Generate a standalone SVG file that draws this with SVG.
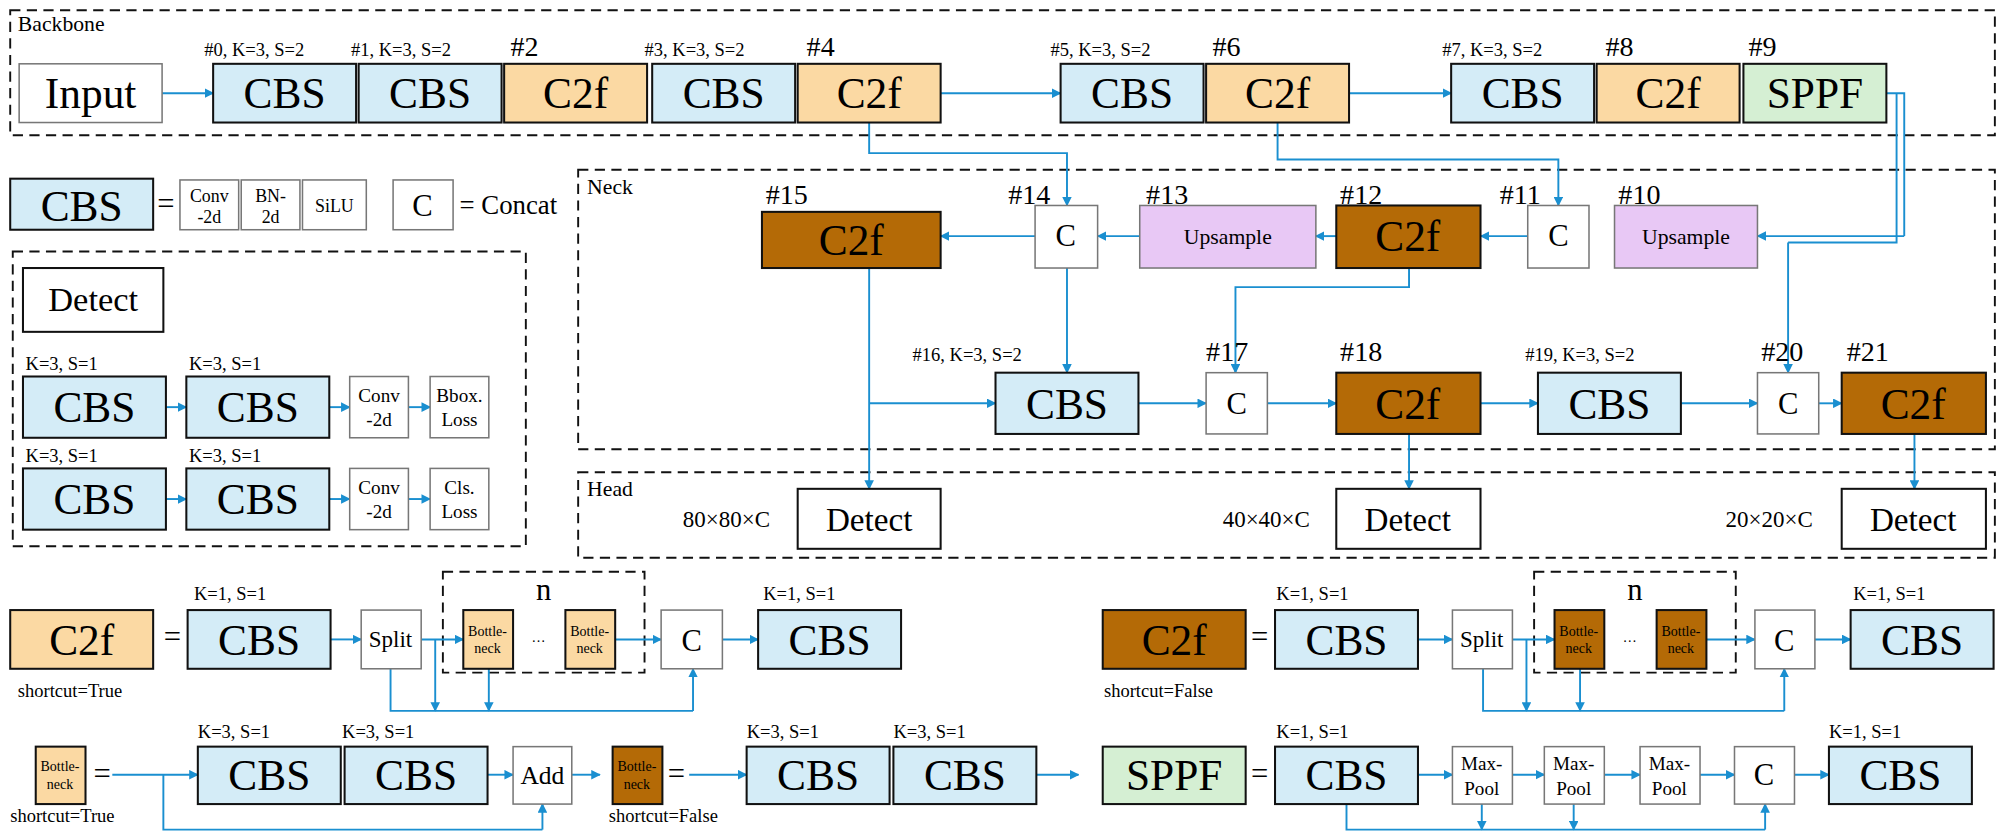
<svg xmlns="http://www.w3.org/2000/svg" width="2000" height="840" viewBox="0 0 2000 840">
<defs>
<marker id="ar" viewBox="0 0 10 10" refX="9" refY="5" markerWidth="5" markerHeight="5" orient="auto"><path d="M0,0L10,5L0,10z" fill="#1a8fd0"/></marker>
<style>
text{font-family:"Liberation Serif","Times New Roman",serif;fill:#000}
.b{stroke:#111;stroke-width:1.6}
.g{stroke:#777;stroke-width:1.2;fill:#fff}
.cbs{fill:#d4ecf7}.lo{fill:#fbd9a3}.br{fill:#b46a06}.gr{fill:#d5efd3}.pu{fill:#e8c8f5}.w{fill:#fff}
.big{font-size:34px;text-anchor:middle}
.mid{font-size:24px;text-anchor:middle}
.sm{font-size:14.5px}
.hd{font-size:22px}
.s{font-size:11px;text-anchor:middle}
.dash{fill:none;stroke:#111;stroke-width:1.5;stroke-dasharray:8 5}
.c{fill:none;stroke:#1a8fd0;stroke-width:1.5}
.a{fill:none;stroke:#1a8fd0;stroke-width:1.5;marker-end:url(#ar)}
</style>
</defs>
<g transform="scale(1.2763)">
<g id="frames">
<rect class="dash" x="8" y="8" width="1555" height="98"/><text x="14" y="24" style="font-size:17px">Backbone</text>
<rect class="dash" x="453" y="133" width="1110" height="219"/><text x="460" y="152" style="font-size:17px">Neck</text>
<rect class="dash" x="453" y="370" width="1110" height="67"/><text x="460" y="389" style="font-size:17px">Head</text>
<rect class="dash" x="10" y="197" width="402" height="231"/>
<rect class="dash" x="347" y="448" width="158" height="79"/><text x="426" y="470" class="mid">n</text>
<rect class="dash" x="1202" y="448" width="158" height="79"/><text x="1281" y="470" class="mid">n</text>
</g>
<g id="connectors">
<path class="a" d="M127,73H167"/><path class="a" d="M737,73H831"/><path class="a" d="M1057,73H1137"/>
<path class="c" d="M1478,73H1492V185"/><path class="a" d="M1492,185H1377"/><path class="c" d="M1486,73V190H1401"/><path class="a" d="M1401,190V292"/>
<path class="a" d="M681,96V120H836V161"/><path class="a" d="M1001,96V125H1221V161"/>
<path class="a" d="M1197,185H1160"/><path class="a" d="M1047,185H1031"/><path class="a" d="M893,185H860"/><path class="a" d="M811,185H737"/>
<path class="a" d="M1104,210V225H968V292"/><path class="a" d="M836,210V292"/>
<path class="a" d="M681,210V383"/><path class="a" d="M681,316H780"/>
<path class="a" d="M892,316H945"/><path class="a" d="M993,316H1047"/><path class="a" d="M1160,316H1205"/><path class="a" d="M1317,316H1377"/><path class="a" d="M1425,316H1443"/>
<path class="a" d="M1104,340V383"/><path class="a" d="M1500,340V383"/>
<path class="a" d="M130,319H146"/><path class="a" d="M258,319H274"/><path class="a" d="M320,319H337"/>
<path class="a" d="M130,391H146"/><path class="a" d="M258,391H274"/><path class="a" d="M320,391H337"/>
<path class="a" d="M259,501H283"/><path class="a" d="M330,501H363"/><path class="a" d="M482,501H518"/><path class="a" d="M566,501H594"/>
<path class="c" d="M306,524V557H543"/><path class="a" d="M543,557V524"/><path class="a" d="M341,501V557"/><path class="a" d="M383,524V557"/>
<path class="a" d="M1111,501H1138"/><path class="a" d="M1185,501H1218"/><path class="a" d="M1337,501H1375"/><path class="a" d="M1422,501H1450"/>
<path class="c" d="M1162,524V557H1398"/><path class="a" d="M1398,557V524"/><path class="a" d="M1196,501V557"/><path class="a" d="M1238,524V557"/>
<path class="a" d="M88,607H155"/><path class="a" d="M382,607H402"/><path class="a" d="M448,607H470"/>
<path class="c" d="M128,607V650H425"/><path class="a" d="M425,650V630"/>
<path class="a" d="M540,607H585"/><path class="a" d="M812,607H845"/>
<path class="a" d="M1111,607H1138"/><path class="a" d="M1185,607H1210"/><path class="a" d="M1257,607H1285"/><path class="a" d="M1332,607H1359"/><path class="a" d="M1406,607H1433"/>
<path class="c" d="M1055,630V650H1383"/><path class="a" d="M1383,650V630"/><path class="a" d="M1161,630V650"/><path class="a" d="M1233,630V650"/>
</g>
<g id="backbone">
<g id="input"><rect class="g" x="15" y="50" width="112" height="46"/><text x="71" y="85" class="big">Input</text></g>
<g id="n0"><rect class="b cbs" x="167" y="50" width="112" height="46"/><text x="223" y="85" class="big">CBS</text><text x="160" y="44" class="sm">#0, K=3, S=2</text></g>
<g id="n1"><rect class="b cbs" x="281" y="50" width="112" height="46"/><text x="337" y="85" class="big">CBS</text><text x="275" y="44" class="sm">#1, K=3, S=2</text></g>
<g id="n2"><rect class="b lo" x="395" y="50" width="112" height="46"/><text x="451" y="85" class="big">C2f</text><text x="400" y="44" class="hd">#2</text></g>
<g id="n3"><rect class="b cbs" x="511" y="50" width="112" height="46"/><text x="567" y="85" class="big">CBS</text><text x="505" y="44" class="sm">#3, K=3, S=2</text></g>
<g id="n4"><rect class="b lo" x="625" y="50" width="112" height="46"/><text x="681" y="85" class="big">C2f</text><text x="632" y="44" class="hd">#4</text></g>
<g id="n5"><rect class="b cbs" x="831" y="50" width="112" height="46"/><text x="887" y="85" class="big">CBS</text><text x="823" y="44" class="sm">#5, K=3, S=2</text></g>
<g id="n6"><rect class="b lo" x="945" y="50" width="112" height="46"/><text x="1001" y="85" class="big">C2f</text><text x="950" y="44" class="hd">#6</text></g>
<g id="n7"><rect class="b cbs" x="1137" y="50" width="112" height="46"/><text x="1193" y="85" class="big">CBS</text><text x="1130" y="44" class="sm">#7, K=3, S=2</text></g>
<g id="n8"><rect class="b lo" x="1251" y="50" width="112" height="46"/><text x="1307" y="85" class="big">C2f</text><text x="1258" y="44" class="hd">#8</text></g>
<g id="n9"><rect class="b gr" x="1366" y="50" width="112" height="46"/><text x="1422" y="85" class="big">SPPF</text><text x="1370" y="44" class="hd">#9</text></g>
</g>
<g id="legend">
<rect class="b cbs" x="8" y="140" width="112" height="40"/><text x="64" y="173" class="big">CBS</text>
<text x="130" y="168" class="mid">=</text>
<rect class="g" x="141" y="141" width="46" height="39"/><text x="164" y="158" class="s" style="font-size:14px">Conv</text><text x="164" y="175" class="s" style="font-size:14px">-2d</text>
<rect class="g" x="189" y="141" width="46" height="39"/><text x="212" y="158" class="s" style="font-size:14px">BN-</text><text x="212" y="175" class="s" style="font-size:14px">2d</text>
<rect class="g" x="237" y="141" width="50" height="39"/><text x="262" y="166" class="s" style="font-size:14px">SiLU</text>
<rect class="g" x="308" y="141" width="47" height="39"/><text x="331" y="169" class="mid">C</text>
<text x="360" y="168" style="font-size:21px">= Concat</text>
</g>
<g id="detect-legend">
<rect class="b w" x="18" y="210" width="110" height="50"/><text x="73" y="244" style="font-size:27px;text-anchor:middle">Detect</text>
<text x="20" y="290" class="sm">K=3, S=1</text><text x="148" y="290" class="sm">K=3, S=1</text>
<rect class="b cbs" x="18" y="295" width="112" height="48"/><text x="74" y="331" class="big">CBS</text>
<rect class="b cbs" x="146" y="295" width="112" height="48"/><text x="202" y="331" class="big">CBS</text>
<rect class="g" x="274" y="295" width="46" height="48"/><text x="297" y="315" class="s" style="font-size:15px">Conv</text><text x="297" y="334" class="s" style="font-size:15px">-2d</text>
<rect class="g" x="337" y="295" width="46" height="48"/><text x="360" y="315" class="s" style="font-size:15px">Bbox.</text><text x="360" y="334" class="s" style="font-size:15px">Loss</text>
<text x="20" y="362" class="sm">K=3, S=1</text><text x="148" y="362" class="sm">K=3, S=1</text>
<rect class="b cbs" x="18" y="367" width="112" height="48"/><text x="74" y="403" class="big">CBS</text>
<rect class="b cbs" x="146" y="367" width="112" height="48"/><text x="202" y="403" class="big">CBS</text>
<rect class="g" x="274" y="367" width="46" height="48"/><text x="297" y="387" class="s" style="font-size:15px">Conv</text><text x="297" y="406" class="s" style="font-size:15px">-2d</text>
<rect class="g" x="337" y="367" width="46" height="48"/><text x="360" y="387" class="s" style="font-size:15px">Cls.</text><text x="360" y="406" class="s" style="font-size:15px">Loss</text>
</g>
<g id="neck">
<g id="n15"><rect class="b br" x="597" y="166" width="140" height="44"/><text x="667" y="200" class="big">C2f</text><text x="600" y="160" class="hd">#15</text></g>
<g id="n14"><rect class="g" x="811" y="161" width="49" height="49"/><text x="835" y="193" class="mid">C</text><text x="790" y="160" class="hd">#14</text></g>
<g id="n13"><rect class="g pu" x="893" y="161" width="138" height="49"/><text x="962" y="191" style="font-size:17px;text-anchor:middle">Upsample</text><text x="898" y="160" class="hd">#13</text></g>
<g id="n12"><rect class="b br" x="1047" y="161" width="113" height="49"/><text x="1103" y="197" class="big">C2f</text><text x="1050" y="160" class="hd">#12</text></g>
<g id="n11"><rect class="g" x="1197" y="161" width="48" height="49"/><text x="1221" y="193" class="mid">C</text><text x="1175" y="160" class="hd">#11</text></g>
<g id="n10"><rect class="g pu" x="1265" y="161" width="112" height="49"/><text x="1321" y="191" style="font-size:17px;text-anchor:middle">Upsample</text><text x="1268" y="160" class="hd">#10</text></g>
<g id="n16"><rect class="b cbs" x="780" y="292" width="112" height="48"/><text x="836" y="328" class="big">CBS</text><text x="715" y="283" class="sm">#16, K=3, S=2</text></g>
<g id="n17"><rect class="g" x="945" y="292" width="48" height="48"/><text x="969" y="324" class="mid">C</text><text x="945" y="283" class="hd">#17</text></g>
<g id="n18"><rect class="b br" x="1047" y="292" width="113" height="48"/><text x="1103" y="328" class="big">C2f</text><text x="1050" y="283" class="hd">#18</text></g>
<g id="n19"><rect class="b cbs" x="1205" y="292" width="112" height="48"/><text x="1261" y="328" class="big">CBS</text><text x="1195" y="283" class="sm">#19, K=3, S=2</text></g>
<g id="n20"><rect class="g" x="1377" y="292" width="48" height="48"/><text x="1401" y="324" class="mid">C</text><text x="1380" y="283" class="hd">#20</text></g>
<g id="n21"><rect class="b br" x="1443" y="292" width="113" height="48"/><text x="1499" y="328" class="big">C2f</text><text x="1447" y="283" class="hd">#21</text></g>
</g>
<g id="head">
<g id="d1"><rect class="b w" x="625" y="383" width="112" height="47"/><text x="681" y="416" style="font-size:26px;text-anchor:middle">Detect</text><text x="535" y="413" style="font-size:18px">80×80×C</text></g>
<g id="d2"><rect class="b w" x="1047" y="383" width="113" height="47"/><text x="1103" y="416" style="font-size:26px;text-anchor:middle">Detect</text><text x="958" y="413" style="font-size:18px">40×40×C</text></g>
<g id="d3"><rect class="b w" x="1443" y="383" width="113" height="47"/><text x="1499" y="416" style="font-size:26px;text-anchor:middle">Detect</text><text x="1352" y="413" style="font-size:18px">20×20×C</text></g>
</g>
<g id="c2f-true">
<rect class="b lo" x="8" y="478" width="112" height="46"/><text x="64" y="513" class="big">C2f</text><text x="14" y="546" class="sm">shortcut=True</text>
<text x="135" y="507" class="mid">=</text>
<rect class="b cbs" x="147" y="478" width="112" height="46"/><text x="203" y="513" class="big">CBS</text><text x="152" y="470" class="sm">K=1, S=1</text>
<rect class="g" x="283" y="478" width="47" height="46"/><text x="306" y="507" style="font-size:18px;text-anchor:middle">Split</text>
<rect class="b lo" x="363" y="478" width="39" height="46"/><text x="382" y="498" class="s">Bottle-</text><text x="382" y="512" class="s">neck</text>
<text x="422" y="503" class="s">…</text>
<rect class="b lo" x="443" y="478" width="39" height="46"/><text x="462" y="498" class="s">Bottle-</text><text x="462" y="512" class="s">neck</text>
<rect class="g" x="518" y="478" width="48" height="46"/><text x="542" y="510" class="mid">C</text>
<rect class="b cbs" x="594" y="478" width="112" height="46"/><text x="650" y="513" class="big">CBS</text><text x="598" y="470" class="sm">K=1, S=1</text>
</g>
<g id="c2f-false">
<rect class="b br" x="864" y="478" width="112" height="46"/><text x="920" y="513" class="big">C2f</text><text x="865" y="546" class="sm">shortcut=False</text>
<text x="987" y="507" class="mid">=</text>
<rect class="b cbs" x="999" y="478" width="112" height="46"/><text x="1055" y="513" class="big">CBS</text><text x="1000" y="470" class="sm">K=1, S=1</text>
<rect class="g" x="1138" y="478" width="47" height="46"/><text x="1161" y="507" style="font-size:18px;text-anchor:middle">Split</text>
<rect class="b br" x="1218" y="478" width="39" height="46"/><text x="1237" y="498" class="s">Bottle-</text><text x="1237" y="512" class="s">neck</text>
<text x="1277" y="503" class="s">…</text>
<rect class="b br" x="1298" y="478" width="39" height="46"/><text x="1317" y="498" class="s">Bottle-</text><text x="1317" y="512" class="s">neck</text>
<rect class="g" x="1375" y="478" width="47" height="46"/><text x="1398" y="510" class="mid">C</text>
<rect class="b cbs" x="1450" y="478" width="112" height="46"/><text x="1506" y="513" class="big">CBS</text><text x="1452" y="470" class="sm">K=1, S=1</text>
</g>
<g id="bottleneck">
<rect class="b lo" x="28" y="585" width="39" height="45"/><text x="47" y="604" class="s">Bottle-</text><text x="47" y="618" class="s">neck</text>
<text x="8" y="644" class="sm">shortcut=True</text><text x="80" y="614" class="mid">=</text>
<rect class="b cbs" x="155" y="585" width="112" height="45"/><text x="211" y="619" class="big">CBS</text><text x="155" y="578" class="sm">K=3, S=1</text>
<rect class="b cbs" x="270" y="585" width="112" height="45"/><text x="326" y="619" class="big">CBS</text><text x="268" y="578" class="sm">K=3, S=1</text>
<rect class="g" x="402" y="585" width="46" height="45"/><text x="425" y="614" style="font-size:20px;text-anchor:middle">Add</text>
<rect class="b br" x="480" y="585" width="39" height="45"/><text x="499" y="604" class="s">Bottle-</text><text x="499" y="618" class="s">neck</text>
<text x="477" y="644" class="sm">shortcut=False</text><text x="530" y="614" class="mid">=</text>
<rect class="b cbs" x="585" y="585" width="112" height="45"/><text x="641" y="619" class="big">CBS</text><text x="585" y="578" class="sm">K=3, S=1</text>
<rect class="b cbs" x="700" y="585" width="112" height="45"/><text x="756" y="619" class="big">CBS</text><text x="700" y="578" class="sm">K=3, S=1</text>
</g>
<g id="sppf">
<rect class="b gr" x="864" y="585" width="112" height="45"/><text x="920" y="619" class="big">SPPF</text>
<text x="987" y="614" class="mid">=</text>
<rect class="b cbs" x="999" y="585" width="112" height="45"/><text x="1055" y="619" class="big">CBS</text><text x="1000" y="578" class="sm">K=1, S=1</text>
<rect class="g" x="1138" y="585" width="47" height="45"/><text x="1161" y="603" class="s" style="font-size:15px">Max-</text><text x="1161" y="623" class="s" style="font-size:15px">Pool</text>
<rect class="g" x="1210" y="585" width="47" height="45"/><text x="1233" y="603" class="s" style="font-size:15px">Max-</text><text x="1233" y="623" class="s" style="font-size:15px">Pool</text>
<rect class="g" x="1285" y="585" width="47" height="45"/><text x="1308" y="603" class="s" style="font-size:15px">Max-</text><text x="1308" y="623" class="s" style="font-size:15px">Pool</text>
<rect class="g" x="1359" y="585" width="47" height="45"/><text x="1382" y="615" class="mid">C</text>
<rect class="b cbs" x="1433" y="585" width="112" height="45"/><text x="1489" y="619" class="big">CBS</text><text x="1433" y="578" class="sm">K=1, S=1</text>
</g>
</g>
</svg>
